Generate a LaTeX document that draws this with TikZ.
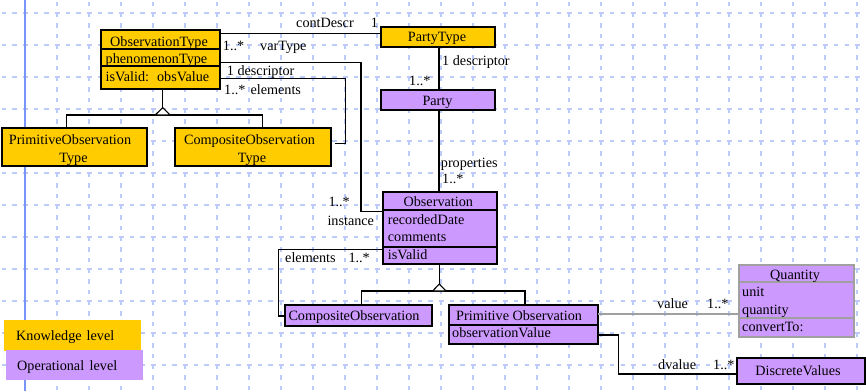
\documentclass[tikz,border=0pt]{standalone}
\usepackage{fontspec}
\setmainfont{Liberation Serif}
\definecolor{knowfill}{RGB}{255,204,0}
\definecolor{operfill}{RGB}{204,153,255}
\definecolor{gridblue}{RGB}{188,202,250}
\definecolor{marginblue}{RGB}{120,150,250}
\definecolor{linkgray}{RGB}{160,160,160}
\begin{document}
\begin{tikzpicture}[x=1pt,y=-1pt,
  font=\fontsize{14.2}{17}\selectfont,
  classbox/.style={draw=black, line width=1.1pt, rectangle, inner sep=0pt, outer sep=0pt, anchor=north west},
  knowbox/.style={classbox, fill=knowfill},
  operbox/.style={classbox, fill=operfill},
  legendbox/.style={rectangle, inner sep=0pt, outer sep=0pt, anchor=north west},
  sepline/.style={line width=1.1pt},
  txt/.style={inner sep=0pt, anchor=base west},
  ctxt/.style={inner sep=0pt, anchor=base},
  link/.style={line width=1.1pt, draw=black},
  gentri/.style={line width=1.1pt, draw=black, fill=white},
  gridline/.style={gridblue, line width=1.3pt, dash pattern=on 4.5pt off 6.17pt, dash phase=9pt},
]
\useasboundingbox (0,0) rectangle (866,391);
\fill[white] (0,0) rectangle (866,391);

% background grid paper
\foreach \gx in {25,57,...,857} \draw[gridline] (\gx,0) -- (\gx,391);
\foreach \gy in {13,45,...,365} \draw[gridline] (0,\gy) -- (866,\gy);
\draw[marginblue, line width=1.2pt] (25,0) -- (25,391);

% ---------- knowledge level classes ----------
\node[knowbox, minimum width=119pt, minimum height=59pt] (ot) at (101,30) {};
\draw[sepline] (101,49) -- (220,49);
\draw[sepline] (101,66) -- (220,66);
\node[ctxt] (ot-name) at (159,46) {ObservationType};
\node[txt] (ot-a1) at (105.5,63.3) {phenomenonType};
\node[txt] (ot-o1) at (105.5,81) {isValid:\hspace{8pt}obsValue};

\node[knowbox, minimum width=145pt, minimum height=38pt] (pot) at (2,128) {};
\node[ctxt] (pot-n1) at (70,144) {PrimitiveObservation};
\node[ctxt] (pot-n2) at (73.5,162.3) {Type};

\node[knowbox, minimum width=156pt, minimum height=38pt] (cot) at (175,128) {};
\node[ctxt] (cot-n1) at (249.5,144) {CompositeObservation};
\node[ctxt] (cot-n2) at (252,162.3) {Type};

\node[knowbox, minimum width=114pt, minimum height=20pt] (pt) at (381,27) {};
\node[ctxt] (pt-name) at (437,41.7) {PartyType};

% ---------- operational level classes ----------
\node[operbox, minimum width=114pt, minimum height=20pt] (party) at (381,90) {};
\node[ctxt] (party-name) at (437.5,105) {Party};

\node[operbox, minimum width=114pt, minimum height=72pt] (obs) at (383,192) {};
\draw[sepline] (383,210) -- (497,210);
\draw[sepline] (383,247) -- (497,247);
\node[ctxt] (obs-name) at (438.3,206.7) {Observation};
\node[txt] (obs-a1) at (387.7,224) {recordedDate};
\node[txt] (obs-a2) at (387.7,241.7) {comments};
\node[txt] (obs-o1) at (387.7,259.3) {isValid};

\node[operbox, minimum width=147pt, minimum height=21pt] (cob) at (285,305) {};
\node[txt] (cob-name) at (288.3,320.7) {CompositeObservation};

\node[operbox, minimum width=149pt, minimum height=39pt] (pob) at (449,305) {};
\draw[sepline] (449,325) -- (598,325);
\node[txt] (pob-name) at (456,320) {Primitive Observation};
\node[txt] (pob-a1) at (452,337.3) {observationValue};

\node[operbox, draw=linkgray, minimum width=115pt, minimum height=72pt] (qty) at (739,265) {};
\draw[sepline, linkgray] (739,282) -- (854,282);
\draw[sepline, linkgray] (739,318) -- (854,318);
\node[ctxt] (qty-name) at (795,279.5) {Quantity};
\node[txt] (qty-a1) at (742,296.7) {unit};
\node[txt] (qty-a2) at (742,314.3) {quantity};
\node[txt] (qty-o1) at (742,331.7) {convertTo:};

\node[operbox, minimum width=128pt, minimum height=26pt] (dv) at (737,358) {};
\node[ctxt] (dv-name) at (798,375) {DiscreteValues};

% ---------- legend ----------
\node[legendbox, fill=knowfill, minimum width=137pt, minimum height=31pt] (legk) at (4,320) {};
\node[txt] (legk-t) at (16,340) {Knowledge\hspace{5pt}level};
\node[legendbox, fill=operfill, minimum width=137pt, minimum height=30pt] (lego) at (6,350) {};
\node[txt] (lego-t) at (17,370) {Operational\hspace{5.5pt}level};

% ---------- associations ----------
\draw[link] ([yshift=-3.3pt]ot.north east) -- ([yshift=-6.3pt]pt.north west);

\coordinate (bendA) at (361,150);
\draw[link] ([yshift=-32.7pt]ot.north east) -| (bendA) |- ([yshift=-19.7pt]obs.north west);

\coordinate (bendB) at (345.7,110);
\draw[link] ([yshift=-48.3pt]ot.north east) -| (bendB) |- ([xshift=4pt,yshift=-15.3pt]cot.north east);

\draw[link] ([xshift=1pt]pt.south) -- ([xshift=1pt]party.north);
\draw[link] ([xshift=1pt]party.south) -- ([xshift=-1pt]obs.north);

\coordinate (bendC) at (278.3,280);
\draw[link] ([yshift=-57.3pt]obs.north west) -| (bendC) |- ([yshift=-11pt]cob.north west);

\draw[link, draw=linkgray] ([yshift=-9pt]pob.north east) -- ([yshift=-49pt]qty.north west);

\coordinate (bendD) at (618.3,350);
\draw[link] ([yshift=-30pt]pob.north east) -| (bendD) |- ([yshift=-16pt]dv.north west);

% ---------- generalizations ----------
\coordinate (genK) at (162.7,107.7);
\draw[link] ([xshift=2.2pt]ot.south) -- (genK);
\draw[link] ([xshift=-7.8pt]pot.north) |- ([yshift=-7.3pt]genK) -| ([xshift=9.3pt]cot.north);
\draw[gentri] (genK) -- ++(-7.5,7.3) -- ++(15,0) -- cycle;

\coordinate (genO) at (439.3,284);
\draw[link] ([xshift=-0.7pt]obs.south) -- (genO);
\draw[link] ([xshift=3.2pt]cob.north) |- ([yshift=-7pt]genO) -| ([xshift=1.5pt]pob.north);
\draw[gentri] (genO) -- ++(-6.7,7) -- ++(13.4,0) -- cycle;

% ---------- role names and multiplicities ----------
\node[txt] (l-contdescr) at (296,27.3) {contDescr};
\node[txt] (l-contmult) at (370.7,27.3) {1};
\node[txt] (l-varmult) at (222.7,50) {1..*};
\node[txt] (l-vartype) at (260,50) {varType};
\node[txt] (l-descr1) at (226.7,75.7) {1 descriptor};
\node[txt] (l-elem1) at (224,94.3) {1..*\hspace{5pt}elements};
\node[txt] (l-descr2) at (442,65.7) {1 descriptor};
\node[txt] (l-partymult) at (409,85.7) {1..*};
\node[txt] (l-props) at (440.7,167.7) {properties};
\node[txt] (l-propmult) at (442,183.3) {1..*};
\node[txt] (l-instmult) at (328.3,206) {1..*};
\node[txt] (l-inst) at (327.3,225) {instance};
\node[txt] (l-elem2) at (285,262.7) {elements};
\node[txt] (l-elem2mult) at (348.3,262.7) {1..*};
\node[txt] (l-value) at (657,308.3) {value};
\node[txt] (l-valmult) at (707,308.3) {1..*};
\node[txt] (l-dvalue) at (658,369) {dvalue};
\node[txt] (l-dvmult) at (713,369) {1..*};
\end{tikzpicture}
\end{document}
